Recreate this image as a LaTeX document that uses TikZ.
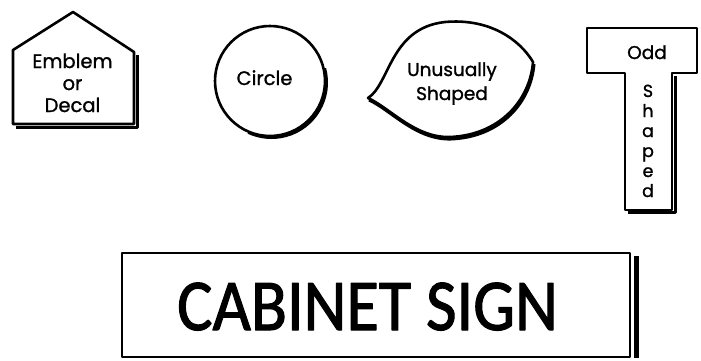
\documentclass[tikz,border=0pt]{standalone}
\usepackage{fontspec}
\setmainfont{Poppins}[FakeBold=1.2]
\newfontfamily\cabfont{Carlito}[FakeBold=1.6]
\begin{document}
\begin{tikzpicture}[x=1pt,y=-1pt,line join=round]
\tikzset{
  outline/.style={draw=black,line width=2.6pt},
  shade/.style={draw=black,line width=3pt},
  lbl/.style={inner sep=0pt,align=center,anchor=base},
}
\useasboundingbox[fill=white] (0,0) rectangle (701,360);
% Emblem or Decal
\draw[shade] (137,55) -- (137,127) -- (16,127);
\draw[outline,fill=white] (13,50) -- (73,12) -- (134,52) -- (134,124) -- (13,124) -- cycle;
\node[lbl,font=\fontsize{19.5}{22}\selectfont] (emblem) at (72.5,112) {Emblem\\or\\Decal};
% Circle
\draw[shade] (271.5,82.5) ++(-15:55) arc[start angle=-15,end angle=115,radius=55];
\draw[outline] (270,81) circle (55);
\node[lbl,font=\fontsize{19.5}{22}\selectfont] (circle) at (264.5,85) {Circle};
% Unusually shaped
\draw[shade] (534,64) .. controls (531,102) and (501,137) .. (451,139) .. controls (416,140) and (391,110) .. (369,100);
\draw[outline] (368,98) .. controls (390,84) and (390,28) .. (445,22)
  .. controls (490,18) and (520,40) .. (533,62)
  .. controls (530,100) and (500,135) .. (450,137)
  .. controls (415,138) and (390,108) .. cycle;
\node[lbl,font=\fontsize{18.5}{24}\selectfont] (unusual) at (452,100) {Unusually\\Shaped};
% Odd shaped T
\draw[shade] (675,76) -- (675,212) -- (628,212);
\draw[outline] (587,28) -- (697,28) -- (697,73) -- (672,73) -- (672,210) -- (625,210) -- (625,73) -- (587,73) -- cycle;
\node[lbl,font=\fontsize{18.5}{20}\selectfont] (odd) at (647,59) {Odd};
\node[lbl,font=\fontsize{17.5}{20}\selectfont] (shaped) at (648,197) {S\\h\\a\\p\\e\\d};
% Cabinet sign
\draw[draw=black,line width=5pt] (636,256) -- (636,358);
\draw[outline] (122,253) rectangle (630,357);
\node[lbl,xscale=0.908,font=\cabfont\fontsize{73}{80}\selectfont] (cabinet) at (367.5,330) {CABINET SIGN};
\end{tikzpicture}
\end{document}
